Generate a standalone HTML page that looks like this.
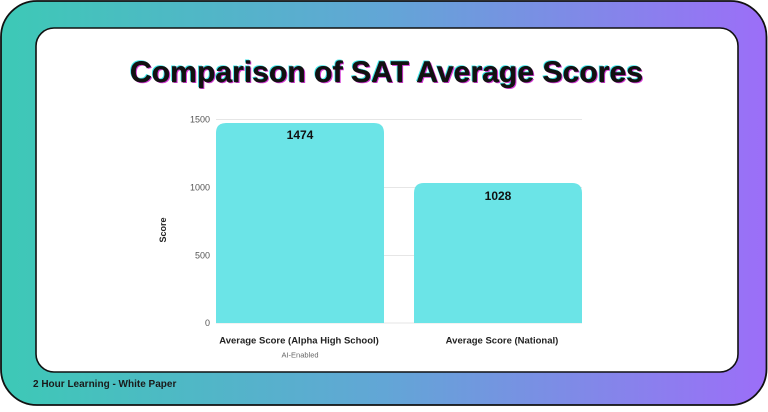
<!DOCTYPE html>
<html><head><meta charset="utf-8"><style>
html,body{margin:0;padding:0;background:#fff;}
body{width:768px;height:407px;overflow:hidden;}
</style></head><body>
<svg width="768" height="407" viewBox="0 0 768 407" xmlns="http://www.w3.org/2000/svg" font-family="Liberation Sans, sans-serif">
<defs>
<linearGradient id="g" x1="0" y1="0" x2="1" y2="0">
<stop offset="0" stop-color="#3dc9b6"/>
<stop offset="0.5" stop-color="#62a6d6"/>
<stop offset="1" stop-color="#9c6ef8"/>
</linearGradient>
</defs>
<rect x="0" y="0" width="768" height="407" fill="#fff"/>
<rect x="1" y="1" width="765.5" height="404" rx="36" ry="36" fill="url(#g)" stroke="#111" stroke-width="1.8"/>
<rect x="36" y="28" width="702" height="344" rx="18" ry="18" fill="#fff" stroke="#111" stroke-width="1.6"/>
<!-- title -->
<g font-weight="bold" font-size="30">
<text x="129" y="81" textLength="513" lengthAdjust="spacingAndGlyphs" fill="#3fe6e8">Comparison of SAT Average Scores</text>
<text x="131.2" y="83.2" textLength="513" lengthAdjust="spacingAndGlyphs" fill="#d43ad6">Comparison of SAT Average Scores</text>
<text x="130" y="82" textLength="513" lengthAdjust="spacingAndGlyphs" fill="#111" stroke="#111" stroke-width="0.4">Comparison of SAT Average Scores</text>
</g>
<!-- grid -->
<g stroke="#e6e6e6" stroke-width="1">
<line x1="216" y1="119.5" x2="582" y2="119.5"/>
<line x1="216" y1="187.5" x2="582" y2="187.5"/>
<line x1="216" y1="255.5" x2="582" y2="255.5"/>
<line x1="216" y1="323" x2="582" y2="323"/>
</g>
<g font-size="9" fill="#555" text-anchor="end">
<text x="210" y="122.5">1500</text>
<text x="210" y="190.5">1000</text>
<text x="210" y="258.5">500</text>
<text x="210" y="326">0</text>
</g>
<text transform="translate(166,230) rotate(-90)" font-size="9" font-weight="bold" fill="#222" text-anchor="middle">Score</text>
<!-- bars -->
<path d="M216,323 V133 Q216,123 226,123 H374 Q384,123 384,133 V323 Z" fill="#6be4e7"/>
<path d="M414,323 V193 Q414,183 424,183 H572 Q582,183 582,193 V323 Z" fill="#6be4e7"/>
<g font-size="12" font-weight="bold" fill="#111" text-anchor="middle">
<text x="300" y="139">1474</text>
<text x="498" y="200">1028</text>
</g>
<g font-size="9.5" font-weight="bold" fill="#222" text-anchor="middle">
<text x="299" y="343.5">Average Score (Alpha High School)</text>
<text x="502" y="343.5">Average Score (National)</text>
</g>
<text x="300" y="357.5" font-size="7.5" fill="#666" text-anchor="middle">AI-Enabled</text>
<text x="33" y="387" font-size="10" font-weight="bold" fill="#1a1a1a">2 Hour Learning - White Paper</text>
</svg>
</body></html>
